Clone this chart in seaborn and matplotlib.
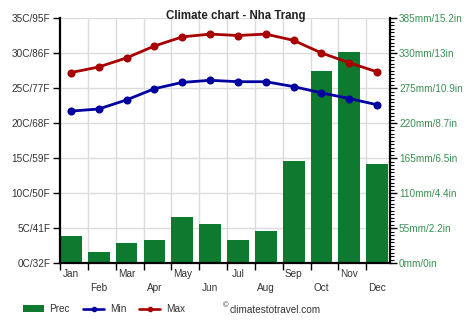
import numpy as np
import pandas as pd
import matplotlib
matplotlib.use("Agg")
import matplotlib.pyplot as plt
from matplotlib.lines import Line2D
from matplotlib.patches import Patch
import seaborn as sns

# Monthly climate normals for Nha Trang
months = ["Jan", "Feb", "Mar", "Apr", "May", "Jun",
          "Jul", "Aug", "Sep", "Oct", "Nov", "Dec"]
prec_mm = [42, 17, 31, 36, 72, 61, 36, 51, 161, 301, 331, 156]
temp_max = [27.2, 28.0, 29.3, 31.0, 32.3, 32.7, 32.5, 32.7, 31.8, 30.0, 28.6, 27.3]
temp_min = [21.7, 22.0, 23.3, 24.9, 25.8, 26.1, 25.9, 25.9, 25.2, 24.3, 23.5, 22.6]

temp_ticks = [0, 5, 10, 15, 20, 25, 30, 35]
temp_tick_labels = ["0C/32F", "5C/41F", "10C/50F", "15C/59F",
                    "20C/68F", "25C/77F", "30C/86F", "35C/95F"]
prec_ticks = [0, 55, 110, 165, 220, 275, 330, 385]
prec_tick_labels = ["0mm/0in", "55mm/2.2in", "110mm/4.4in", "165mm/6.5in",
                    "220mm/8.7in", "275mm/10.9in", "330mm/13in", "385mm/15.2in"]

GREEN = "#0e7a30"
RED = "#a80000"
BLUE = "#0000a0"
LABEL_GREEN = "#3a8f52"
TEXT = "#333333"
GRID = "#dcdcdc"

sns.set_theme(style="white")
plt.rcParams["font.family"] = ["Liberation Sans", "DejaVu Sans"]
FS = 7.2

df = pd.DataFrame({"month": months, "pos": np.arange(12), "prec": prec_mm,
                   "tmax": temp_max, "tmin": temp_min})

fig = plt.figure(figsize=(4.74, 3.31), dpi=100)
W, H = 474, 331
left, right, top, bottom = 60, 390, 18, 263
ax = fig.add_axes([left / W, 1 - bottom / H, (right - left) / W, (bottom - top) / H])
ax2 = ax.twinx()

# precipitation bars (right scale) underneath the temperature lines
bar_w = 0.78
sns.barplot(data=df, x="month", y="prec", ax=ax2, color=GREEN, width=bar_w,
            saturation=1, linewidth=0)
sns.lineplot(data=df, x="pos", y="tmax", ax=ax, color=RED, linewidth=2.0,
             marker="o", markersize=5.8, markeredgewidth=0, legend=False)
sns.lineplot(data=df, x="pos", y="tmin", ax=ax, color=BLUE, linewidth=2.0,
             marker="o", markersize=5.8, markeredgewidth=0, legend=False)

ax.set_zorder(ax2.get_zorder() + 1)
ax.patch.set_visible(False)

x0 = -bar_w / 2
x1 = 11 + bar_w / 2 + 0.07
for a in (ax, ax2):
    a.set_xlim(x0, x1)
ax.set_ylim(0, 35)
ax2.set_ylim(0, 385)

# month boundaries: tick marks and vertical grid
bounds = np.arange(12) - bar_w / 2
ax.set_xticks(bounds)
ax.set_xticklabels([""] * 12)
ax.set_xticks(np.arange(12), minor=True)
ax.set_xticklabels(months, minor=True, fontsize=FS, color=TEXT)
ax.tick_params(axis="x", which="major", direction="out", length=5, width=1,
               color="black", bottom=True)
ax.tick_params(axis="x", which="minor", length=0, bottom=True)
for i, t in enumerate(ax.xaxis.get_minor_ticks()):
    t.set_pad(4.3 if i % 2 == 0 else 14.6)

ax.set_yticks(temp_ticks)
ax.set_yticklabels(temp_tick_labels, fontsize=FS, color=TEXT)
ax.tick_params(axis="y", which="major", direction="out", length=5, width=1,
               color="black", pad=2, left=True)

ax2.set_yticks(prec_ticks)
ax2.set_yticklabels(prec_tick_labels, fontsize=FS, color=LABEL_GREEN)
ax2.set_yticks(np.arange(0, 386, 5.5), minor=True)
ax2.tick_params(axis="y", which="major", direction="out", length=5, width=1,
                color="black", pad=1.5, right=True)
ax2.tick_params(axis="y", which="minor", direction="out", length=3, width=0.8,
                color="black", right=True)
ax2.set_xlabel("")
ax2.set_ylabel("")
ax.set_xlabel("")
ax.set_ylabel("")

# grid behind the bars
ax2.set_axisbelow(True)
ax.grid(False)
ax2.grid(False)
for b in bounds[1:]:
    ax2.axvline(b, color=GRID, linewidth=1, zorder=0)
for p in prec_ticks[1:]:
    ax2.axhline(p, color=GRID, linewidth=1, zorder=0)

for a in (ax, ax2):
    for s in a.spines.values():
        s.set_visible(False)
ax.spines["left"].set_visible(True)
ax.spines["bottom"].set_visible(True)
ax2.spines["right"].set_visible(True)
for s in (ax.spines["left"], ax.spines["bottom"], ax2.spines["right"]):
    s.set_color("black")
    s.set_linewidth(1.6)

fig.text(236 / W, 1 - 16.5 / H, "Climate chart - Nha Trang", ha="center", va="center",
         fontsize=8.3, fontweight="bold", color="#222222")

handles = [Patch(facecolor=GREEN, edgecolor="none"),
           Line2D([], [], color=BLUE, linewidth=1.9, marker="o", markersize=3),
           Line2D([], [], color=RED, linewidth=1.9, marker="o", markersize=3)]
fig.legend(handles, ["Prec", "Min", "Max"], ncol=3, frameon=False,
           loc="center left", bbox_to_anchor=(20.5 / W, 1 - 309 / H),
           fontsize=FS, handlelength=2.1, handletextpad=0.6,
           columnspacing=1.3, numpoints=1, labelcolor=TEXT, borderaxespad=0,
           borderpad=0.2)

fig.text(223 / W, 1 - 309 / H, "\u00a9", fontsize=5.5, color=TEXT,
         ha="left", va="bottom")
fig.text(229.5 / W, 1 - 310 / H, "climatestotravel.com", fontsize=FS,
         color=TEXT, ha="left", va="center")

fig.savefig("out.png", dpi=100)
